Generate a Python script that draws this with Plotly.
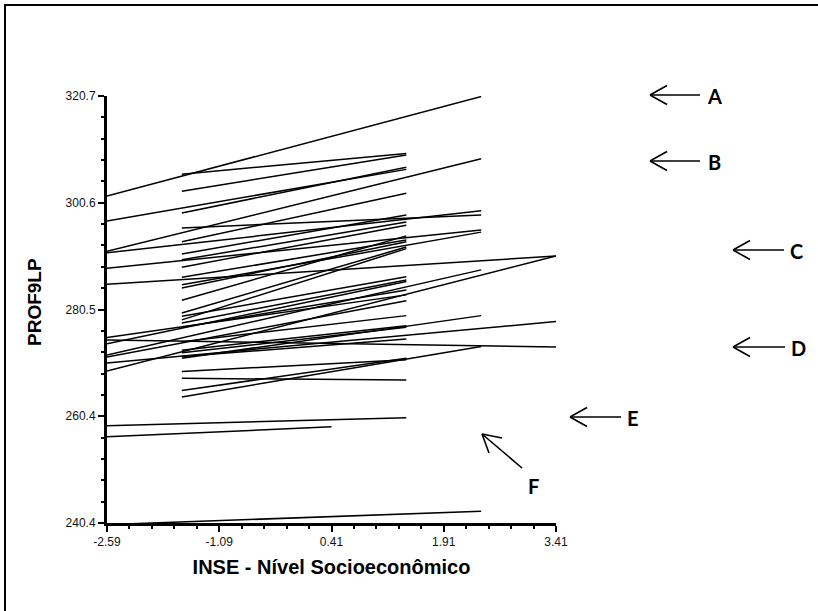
import plotly.graph_objects as go

# ---- data ----
x_start = [-2.59, -2.59, -2.59, -2.59, -2.59, -2.59, -2.59, -2.59, -2.59, -2.59,
           -2.59, -2.59, -2.59, -2.59, -2.59, -2.59,
           -1.59, -1.59, -1.59, -1.59, -1.59, -1.59, -1.59, -1.59, -1.59, -1.59,
           -1.59, -1.59, -1.59, -1.59, -1.59, -1.59, -1.59, -1.59, -1.59, -1.59,
           -1.59, -1.59, -1.59, -1.59, -1.59, -1.59]
x_end = [2.41, 1.41, 2.41, 2.41, 2.41, 3.41, 1.41, 3.41, 1.41, 2.41,
         1.41, 3.41, 3.41, 1.41, 0.41, 2.41,
         1.41, 1.41, 1.41, 2.41, 1.41, 1.41, 1.41, 2.41, 1.41, 1.41,
         1.41, 1.41, 1.41, 1.41, 1.41, 1.41, 1.41, 1.41, 1.41, 1.41,
         2.41, 1.41, 1.41, 1.41, 2.41, 1.41]
y_start = [301.9, 297.2, 291.5, 291.2, 288.3, 285.3, 275.3, 274.8, 274.1, 272.0,
           271.6, 270.5, 269.0, 258.7, 256.6, 240.1,
           306.0, 302.8, 298.7, 295.9, 293.3, 289.9, 288.5, 285.2, 286.6, 284.6,
           282.3, 279.9, 279.3, 278.6, 278.0, 277.2, 274.5, 272.9, 272.4, 271.7,
           271.4, 268.9, 267.6, 265.3, 264.1, 291.0]
y_end = [320.6, 306.9, 308.9, 299.1, 295.5, 290.6, 283.3, 273.5, 285.8, 288.0,
         282.2, 278.3, 290.6, 260.2, 258.5, 242.6,
         309.9, 309.6, 307.3, 298.3, 302.4, 297.0, 296.4, 295.1, 293.6, 293.3,
         294.4, 292.3, 286.7, 292.0, 286.1, 284.2, 279.4, 277.5, 277.2, 275.0,
         279.4, 271.1, 267.3, 271.4, 273.6, 298.3]

x_tickvals = [-2.59, -1.09, 0.41, 1.91, 3.41]
x_ticktext = ["-2.59", "-1.09", "0.41", "1.91", "3.41"]
y_tickvals = [240.4, 260.475, 280.55, 300.625, 320.7]
y_ticktext = ["240.4", "260.4", "280.5", "300.6", "320.7"]

marker_labels = ["A", "B", "C", "D", "E", "F"]

# ---- figure ----
W, H = 818, 611
ML, MR, MT, MB = 107, 262, 96, 88
PW, PH = W - ML - MR, H - MT - MB


def px(xp):
    return (xp - ML) / PW


def py(yp):
    return (H - MB - yp) / PH


xs, ys = [], []
for a, b, c, d in zip(x_start, x_end, y_start, y_end):
    xs += [a, b, None]
    ys += [c, d, None]

fig = go.Figure(go.Scatter(x=xs, y=ys, mode="lines",
                           line=dict(color="black", width=1.5),
                           hoverinfo="skip", showlegend=False))

tickfont = dict(family="Arial, Liberation Sans, sans-serif", size=12, color="#111")
fig.update_xaxes(range=[-2.59, 3.41], showline=True, linecolor="black", linewidth=3,
                 ticks="outside", ticklen=6, tickwidth=2, tickcolor="black",
                 tickvals=x_tickvals, ticktext=x_ticktext, tickfont=tickfont,
                 showgrid=False, zeroline=False,
                 minor=dict(ticks="outside", ticklen=3, tickwidth=2, tickcolor="black",
                            tick0=-2.59, dtick=0.3),
                 title=dict(text="INSE - Nível Socioeconômico", standoff=12,
                            font=dict(family="Arial, Liberation Sans, sans-serif",
                                      size=20, color="black", weight="bold")))
fig.update_yaxes(range=[240.4, 320.7], showline=True, linecolor="black", linewidth=3,
                 ticks="outside", ticklen=6, tickwidth=2, tickcolor="black",
                 tickvals=y_tickvals, ticktext=y_ticktext, tickfont=tickfont,
                 showgrid=False, zeroline=False,
                 minor=dict(ticks="outside", ticklen=3, tickwidth=2, tickcolor="black",
                            tick0=240.4, dtick=4.015))

shapes = []
annotations = []

# page frame (only top and left edges fall inside the picture)
shapes.append(dict(type="rect", xref="paper", yref="paper",
                   x0=px(5), x1=px(830), y0=py(625), y1=py(5),
                   line=dict(color="black", width=2), fillcolor="rgba(0,0,0,0)"))

# arrows: (tip_x, tip_y, tail_x, tail_y, wing1, wing2, label_x, label_y)
arrows = [
    (650, 95, 700, 95, (667, 85.5), (667, 104.5), 714, 96),
    (650, 161, 700, 161, (667, 151.5), (667, 170.5), 714, 162),
    (733, 250, 784, 250, (750, 240.5), (750, 259.5), 796, 251),
    (733, 347, 785, 347, (750, 337.5), (750, 356.5), 798, 348),
    (570, 417, 621, 417, (587, 407.5), (587, 426.5), 633, 418),
    (482, 434, 522, 468, (502, 438), (489, 453), 533, 486),
]
for (tx, ty, ex, ey, w1, w2, lx, ly), lab in zip(arrows, marker_labels):
    for (ax_, ay_) in [(ex, ey), w1, w2]:
        shapes.append(dict(type="line", xref="paper", yref="paper",
                           x0=px(tx), y0=py(ty), x1=px(ax_), y1=py(ay_),
                           line=dict(color="black", width=1.6)))
    annotations.append(dict(text=lab, xref="paper", yref="paper", x=px(lx), y=py(ly),
                            showarrow=False, xanchor="center", yanchor="middle",
                            font=dict(family="Lato, Open Sans, sans-serif", size=20,
                                      color="black", weight="bold")))

annotations.append(dict(text="PROF9LP", xref="paper", yref="paper",
                        x=px(34), y=py(302), showarrow=False, textangle=-90,
                        xanchor="center", yanchor="middle",
                        font=dict(family="Arial, Liberation Sans, sans-serif", size=19,
                                  color="black", weight="bold")))

fig.update_layout(width=W, height=H, margin=dict(l=ML, r=MR, t=MT, b=MB),
                  paper_bgcolor="white", plot_bgcolor="white",
                  shapes=shapes, annotations=annotations, showlegend=False)

fig.write_html("out.html")
